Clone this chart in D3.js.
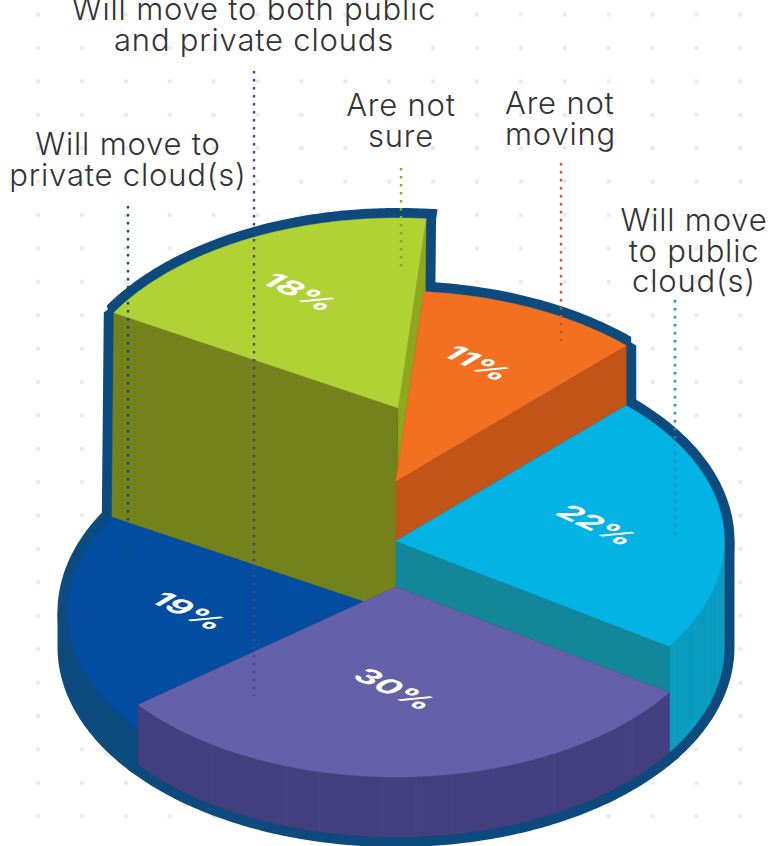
<!DOCTYPE html>
<html>
<head>
<meta charset="utf-8">
<script src="https://cdn.jsdelivr.net/npm/d3@7"></script>
<style>
  html, body { margin: 0; padding: 0; background: #fff; }
  svg { display: block; }
  .caption { font-family: Inter, "Open Sans", sans-serif; font-weight: 300; font-size: 31px; letter-spacing: 0.8px; fill: #333; }
  .pct { font-family: Inter, "Open Sans", sans-serif; font-weight: 700; font-size: 28px; fill: #fff; text-anchor: middle; }
</style>
</head>
<body>
<div id="chart"></div>
<script>
// slices, clockwise from the orange one
const categories = ["Are not moving", "Will move to public cloud(s)", "Will move to both public and private clouds", "Will move to private cloud(s)", "Are not sure"];
const values = [11, 22, 30, 19, 18];
const captionLines = [
  ["Are not", "moving"],
  ["Will move", "to public", "cloud(s)"],
  ["Will move to both public", "and private clouds"],
  ["Will move to", "private cloud(s)"],
  ["Are not", "sure"]
];

const width = 768, height = 846;

// layout of the stepped pie
const rx = 328.5, ry = 190;
const cx = 396, baseY = 647;
const startDeg = 4.9;
const lift = [166, 106, 60, 35, 239];      // top face above the base plane
const drop = [60, 106, 60, 35, 204];       // how far each wall is drawn down
const topShift = [0, 0, 0, 0, 2];
const paintOrder = [3, 4, 0, 1, 2];        // back to front

const topColor = ["#f37021", "#02b3e3", "#6560aa", "#034ea2", "#b0d235"];
const endColor = ["#c25418", "#118799", "#433f80", "#0d4a7e", "#8fa61f"];   // cut face at the end angle
const startColor = ["#c25418", "#118799", "#433f80", "#0d4a7e", "#74821c"]; // cut face at the start angle
const rimColor = ["#c25418", "#0a9cc0", "#433f80", "#0d4a7e", "#74821c"];
const navy = "#0d4a7e";

// faint seams on the rim, degrees
const seams = [
  [], [101.5, 108.2, 114.5, 122.2],
  [134.1, 151.1, 162.6, 170.2, 176.5, 182.3, 193.5, 199.4, 214.1], [], []
];

const pctAt = [[478, 363], [597, 525], [395, 689], [189, 611], [300, 292]];
const captionAt = [
  {x: 505, y: 114, anchor: "start"},
  {x: 694, y: 231, anchor: "middle"},
  {x: 254, y: 20, anchor: "middle"},
  {x: 128, y: 155, anchor: "middle"},
  {x: 401, y: 116, anchor: "middle"}
];
const leaderX = [561, 675, 254, 128, 401];
const leaderY = [[163, 343], [300, 537], [71, 696], [206, 590], [168, 268]];
const leaderColor = ["#c5561a", "#0c93b3", "#4b3f8f", "#10477f", "#8fa61f"];

const svg = d3.select("#chart").append("svg")
  .attr("width", width)
  .attr("height", height);

// dotted paper behind everything
svg.append("g").selectAll("rect")
  .data(d3.cross(d3.range(38, 768, 43.9), d3.range(14.6, 846, 33.4)))
  .join("rect")
    .attr("x", d => d[0] - 2)
    .attr("y", d => d[1] - 2)
    .attr("width", 4)
    .attr("height", 4)
    .attr("fill", "#ebebeb");

const px = d3.scaleLinear().domain([-1, 1]).range([-rx, rx]);
const py = d3.scaleLinear().domain([-1, 1]).range([-ry, ry]);
const line = d3.line();

const pie = d3.pie().sort(null)
  .startAngle(startDeg * Math.PI / 180)
  .endAngle(startDeg * Math.PI / 180 + 2 * Math.PI);
const arcs = pie(values);

const rimPoint = (a, ox, oy) => [ox + px(Math.sin(a)), oy + py(-Math.cos(a))];
function arcPoints(a0, a1, ox, oy) {
  const n = Math.max(2, Math.ceil((a1 - a0) / 0.01));
  return d3.range(n + 1).map(i => rimPoint(a0 + (a1 - a0) * i / n, ox, oy));
}

// the faces of one slice
const faces = arcs.map((d, i) => {
  const topX = cx + topShift[i], topY = baseY - lift[i];
  const lowX = cx, lowY = topY + drop[i];
  const top = [[topX, topY], ...arcPoints(d.startAngle, d.endAngle, topX, topY)];
  const cutStart = [[topX, topY], rimPoint(d.startAngle, topX, topY), rimPoint(d.startAngle, lowX, lowY), [lowX, lowY]];
  const cutEnd = [[topX, topY], rimPoint(d.endAngle, topX, topY), rimPoint(d.endAngle, lowX, lowY), [lowX, lowY]];
  // only the part of the rim that faces the viewer
  const a0 = Math.max(d.startAngle, Math.PI / 2), a1 = Math.min(d.endAngle, 1.5 * Math.PI);
  const rim = a1 > a0 ? [...arcPoints(a0, a1, topX, topY), ...arcPoints(a0, a1, lowX, lowY).reverse()] : null;
  return {top, cutStart, cutEnd, rim};
});

// navy edge: every face stroked thick, the fills then hide the inner half
const edge = svg.append("g")
  .attr("fill", navy)
  .attr("stroke", navy)
  .attr("stroke-width", 20)
  .attr("stroke-linejoin", "miter")
  .attr("stroke-miterlimit", 1.6);
faces.forEach(f => {
  [f.cutStart, f.cutEnd, f.rim, f.top].filter(Boolean).forEach(p => {
    edge.append("path").attr("d", line(p) + "Z");
  });
});

const slices = svg.append("g");
paintOrder.forEach(i => {
  const f = faces[i];
  const g = slices.append("g").attr("class", "slice");
  const face = (p, c) => g.append("path").attr("d", line(p) + "Z").attr("fill", c).attr("stroke", c).attr("stroke-width", 0.4);
  face(f.cutEnd, endColor[i]);
  face(f.cutStart, startColor[i]);
  if (f.rim) {
    face(f.rim, rimColor[i]);
    const topX = cx + topShift[i], topY = baseY - lift[i];
    seams[i].forEach(deg => {
      const a = deg * Math.PI / 180;
      g.append("path")
        .attr("d", line([rimPoint(a, topX, topY), rimPoint(a, cx, topY + drop[i])]))
        .attr("stroke", "#fff")
        .attr("stroke-opacity", 0.05)
        .attr("stroke-width", 1);
    });
  }
  face(f.top, topColor[i]);
});

// percent labels lie flat on the slices
svg.append("g").selectAll("text")
  .data(values)
  .join("text")
    .attr("class", "pct")
    .attr("transform", (d, i) => `translate(${pctAt[i][0]},${pctAt[i][1]}) matrix(1.1,0.52,-0.85,0.52,0,0)`)
    .attr("dy", "0.36em")
    .text(d => d + "%");

// dotted leaders
svg.append("g").selectAll("line")
  .data(leaderX)
  .join("line")
    .attr("x1", d => d)
    .attr("x2", d => d)
    .attr("y1", (d, i) => leaderY[i][0])
    .attr("y2", (d, i) => leaderY[i][1])
    .attr("stroke", (d, i) => leaderColor[i])
    .attr("stroke-width", 2.4)
    .attr("stroke-dasharray", "2.4 5.6");

// captions
categories.forEach((name, i) => {
  const t = svg.append("text")
    .attr("class", "caption")
    .attr("text-anchor", captionAt[i].anchor);
  captionLines[i].forEach((s, k) => {
    t.append("tspan")
      .attr("x", captionAt[i].x)
      .attr("y", captionAt[i].y + k * 30.5)
      .text(s);
  });
});
</script>
</body>
</html>
